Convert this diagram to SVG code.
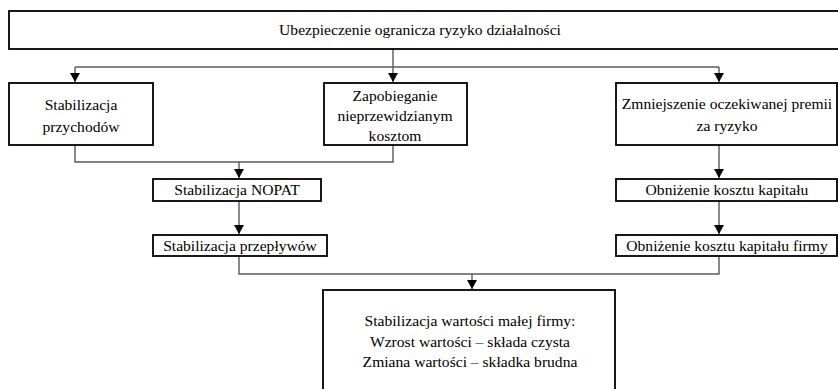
<svg xmlns="http://www.w3.org/2000/svg" width="838" height="389" viewBox="0 0 838 389">
<style>
.box{fill:#fff;stroke:#000;stroke-width:1.8}
.t{font-family:"Liberation Serif","Times New Roman",serif;font-size:15.6px;fill:#000;text-anchor:middle}
.c{fill:none;stroke:#5a5a5a;stroke-width:1.4}
</style>
<defs>
<marker id="ah" markerWidth="10" markerHeight="10" refX="9" refY="5" orient="auto" markerUnits="userSpaceOnUse">
<path d="M0,0 L9,5 L0,10 Z" fill="#000"/>
</marker>
</defs>
<rect width="838" height="389" fill="#fff"/>
<g id="connectors">
<path class="c" d="M393,49 V66" />
<path class="c" d="M393,66 V82" marker-end="url(#ah)"/>
<path class="c" d="M75,67 H719"/>
<path class="c" d="M75,67 V82" marker-end="url(#ah)"/>
<path class="c" d="M719,67 V82" marker-end="url(#ah)"/>
<path class="c" d="M75,145 V162 H393 V145"/>
<path class="c" d="M239,162 V178" marker-end="url(#ah)"/>
<path class="c" d="M239,201 V234" marker-end="url(#ah)"/>
<path class="c" d="M239,256 V274 H719 V256"/>
<path class="c" d="M472,274 V289" marker-end="url(#ah)"/>
<path class="c" d="M719,145 V178" marker-end="url(#ah)"/>
<path class="c" d="M719,201 V234" marker-end="url(#ah)"/>
</g>
<g id="n-top">
<rect class="box" x="9" y="11" width="840" height="38"/>
<text class="t" x="420" y="35">Ubezpieczenie ogranicza ryzyko działalności</text>
</g>
<g id="n-przychody">
<rect class="box" x="9" y="83" width="144" height="62"/>
<text class="t" x="81" y="110">Stabilizacja</text>
<text class="t" x="81" y="132">przychodów</text>
</g>
<g id="n-koszty">
<rect class="box" x="324" y="83" width="143" height="62"/>
<text class="t" x="395" y="101">Zapobieganie</text>
<text class="t" x="395" y="121">nieprzewidzianym</text>
<text class="t" x="395" y="141">kosztom</text>
</g>
<g id="n-premia">
<rect class="box" x="616" y="83" width="221" height="62"/>
<text class="t" x="727" y="109">Zmniejszenie oczekiwanej premii</text>
<text class="t" x="727" y="131">za ryzyko</text>
</g>
<g id="n-nopat">
<rect class="box" x="153" y="179" width="168" height="22"/>
<text class="t" x="237" y="195">Stabilizacja NOPAT</text>
</g>
<g id="n-przeplywy">
<rect class="box" x="153" y="235" width="174" height="21"/>
<text class="t" x="240" y="251">Stabilizacja przepływów</text>
</g>
<g id="n-kapital">
<rect class="box" x="616" y="179" width="221" height="22"/>
<text class="t" x="727" y="195">Obniżenie kosztu kapitału</text>
</g>
<g id="n-kapital-firmy">
<rect class="box" x="616" y="235" width="221" height="21"/>
<text class="t" x="727" y="251">Obniżenie kosztu kapitału firmy</text>
</g>
<g id="n-wartosc">
<rect class="box" x="323" y="290" width="292" height="110"/>
<text class="t" x="470" y="326">Stabilizacja wartości małej firmy:</text>
<text class="t" x="470" y="347">Wzrost wartości – składa czysta</text>
<text class="t" x="470" y="367">Zmiana wartości – składka brudna</text>
</g>
</svg>
